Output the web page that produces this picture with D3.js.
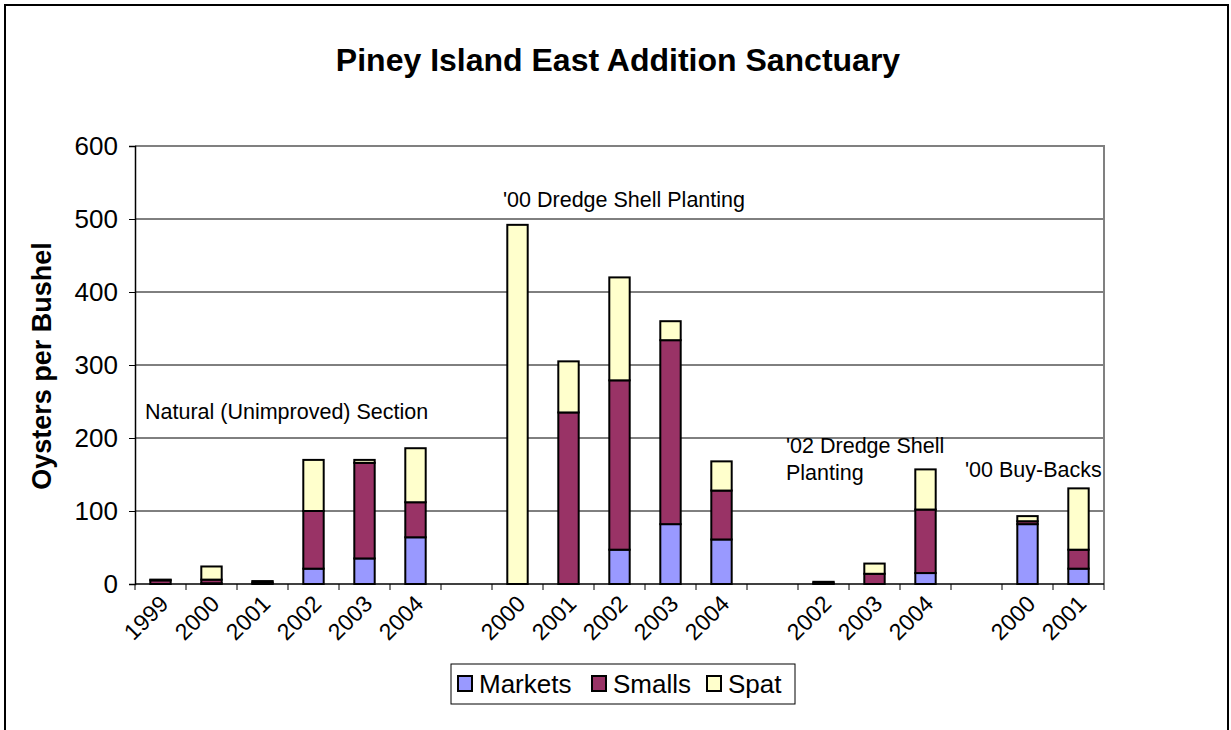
<!DOCTYPE html>
<html>
<head>
<meta charset="utf-8">
<script src="https://cdn.jsdelivr.net/npm/d3@7"></script>
<style>
  html, body { margin: 0; padding: 0; background: #fff; }
  svg { display: block; font-family: Arial, "Liberation Sans", sans-serif; }
</style>
</head>
<body>
<svg id="chart" width="1231" height="730"></svg>
<script>
// Sampling slots along the x axis; "g" ids are spacer slots between site groups
const slots = ["n1999","n2000","n2001","n2002","n2003","n2004","g1",
               "d2000","d2001","d2002","d2003","d2004","g2",
               "e2002","e2003","e2004","g3",
               "b2000","b2001"];
const tickLabels = ["1999","2000","2001","2002","2003","2004","",
                    "2000","2001","2002","2003","2004","",
                    "2002","2003","2004","",
                    "2000","2001"];
// Oysters per bushel by size class
const markets = [0, 1, 0, 21, 35, 64, 0, 0, 0, 47, 82, 61, 0, 0, 0, 15, 0, 82, 21];
const smalls  = [5, 5, 2, 79, 131, 48, 0, 0, 235, 232, 252, 67, 0, 1, 14, 87, 0, 4, 26];
const spat    = [1, 18, 2, 70, 4, 74, 0, 492, 70, 141, 26, 40, 0, 2, 14, 55, 0, 7, 84];
const seriesNames = ["Markets", "Smalls", "Spat"];
const seriesColors = ["#9999FF", "#993366", "#FFFFCC"];
const yTicks = [0, 100, 200, 300, 400, 500, 600];
// Site group captions
const noteLines = [["Natural (Unimproved) Section"], ["'00 Dredge Shell Planting"],
                   ["'02 Dredge Shell", "Planting"], ["'00 Buy-Backs"]];
const noteSlots = [0, 7, 13, 16];
const noteValues = [226, 516, 179, 146];

const svg = d3.select("#chart");
const plot = {left: 135, right: 1104, top: 146, bottom: 584};
const noteOffsets = [10, 11, -12, 14];

const x = d3.scaleBand().domain(slots).range([plot.left, plot.right]).paddingInner(0.6).paddingOuter(0.3);
const xOuter = d3.scaleBand().domain(slots).range([plot.left, plot.right]);
const y = d3.scaleLinear().domain([0, 600]).range([plot.bottom, plot.top]);

// Outer chart frame
svg.append("rect").attr("x", 5).attr("y", 5).attr("width", 1223).attr("height", 740)
  .attr("fill", "none").attr("stroke", "#000").attr("stroke-width", 2);

// Title
svg.append("text").attr("x", 618).attr("y", 71).attr("text-anchor", "middle")
  .attr("font-size", 32).attr("font-weight", "bold").text("Piney Island East Addition Sanctuary");

// Gridlines
svg.append("g").selectAll("line").data(yTicks.filter(d => d > 0 && d < 600)).join("line")
  .attr("x1", plot.left).attr("x2", plot.right)
  .attr("y1", d => y(d)).attr("y2", d => y(d))
  .attr("stroke", "#000").attr("stroke-width", 1);

// Plot area border (top and right)
svg.append("path")
  .attr("d", `M${plot.left},${plot.top}H${plot.right}V${plot.bottom}`)
  .attr("fill", "none").attr("stroke", "#808080").attr("stroke-width", 2);

// Stacked bars
const rows = slots.map((s, i) => ({slot: s, Markets: markets[i], Smalls: smalls[i], Spat: spat[i]}));
const stack = d3.stack().keys(seriesNames)(rows);
stack.forEach((layer, li) => {
  svg.append("g").selectAll("rect")
    .data(layer.filter(d => d[1] - d[0] > 0))
    .join("rect")
    .attr("x", d => x(d.data.slot))
    .attr("width", x.bandwidth())
    .attr("y", d => y(d[1]))
    .attr("height", d => y(d[0]) - y(d[1]))
    .attr("fill", seriesColors[li])
    .attr("stroke", "#000").attr("stroke-width", 2);
});

// Y axis
const yAxis = d3.axisLeft(y).tickValues(yTicks).tickSize(6).tickPadding(11);
const gy = svg.append("g").attr("transform", `translate(${plot.left},0)`).call(yAxis);
gy.select(".domain").attr("stroke", "#000").attr("stroke-width", 1.5);
gy.selectAll(".tick line").attr("stroke", "#000");
gy.selectAll(".tick text").attr("font-size", 26).attr("fill", "#000")
  .attr("font-family", "Arial, 'Liberation Sans', sans-serif");

// X axis line with ticks at slot boundaries
svg.append("line").attr("x1", plot.left).attr("x2", plot.right)
  .attr("y1", plot.bottom).attr("y2", plot.bottom).attr("stroke", "#000").attr("stroke-width", 1.5);
const boundaries = slots.map(s => xOuter(s)).concat([plot.right]);
svg.append("g").selectAll("line").data(boundaries).join("line")
  .attr("x1", d => d).attr("x2", d => d)
  .attr("y1", plot.bottom).attr("y2", plot.bottom + 6)
  .attr("stroke", "#000").attr("stroke-width", 1);

// Rotated category labels
svg.append("g").selectAll("text").data(slots.map((s, i) => ({s, label: tickLabels[i]})).filter(d => d.label))
  .join("text")
  .attr("transform", d => `translate(${xOuter(d.s) + xOuter.bandwidth() / 2 + 5},${plot.bottom + 17}) rotate(-45)`)
  .attr("text-anchor", "end").attr("dominant-baseline", "middle")
  .attr("font-size", 23).text(d => d.label);

// Y axis title
svg.append("text").attr("transform", "translate(51,366) rotate(-90)")
  .attr("text-anchor", "middle").attr("font-size", 27).attr("font-weight", "bold")
  .text("Oysters per Bushel");

// Site group captions
noteLines.forEach((lines, k) => {
  const nx = xOuter(slots[noteSlots[k]]) + noteOffsets[k];
  const t = svg.append("text").attr("x", nx).attr("y", y(noteValues[k])).attr("font-size", 21.5);
  lines.forEach((line, i) => {
    t.append("tspan").attr("x", nx).attr("dy", i === 0 ? 0 : 27).text(line);
  });
});

// Legend
const legend = svg.append("g").attr("transform", "translate(451,664)");
legend.append("rect").attr("width", 344).attr("height", 40)
  .attr("fill", "#fff").attr("stroke", "#000").attr("stroke-width", 1);
const legendX = [7, 141, 256];
seriesNames.forEach((name, i) => {
  const g = legend.append("g").attr("transform", `translate(${legendX[i]},0)`);
  g.append("rect").attr("x", 0).attr("y", 12).attr("width", 14).attr("height", 15)
    .attr("fill", seriesColors[i]).attr("stroke", "#000").attr("stroke-width", 2);
  g.append("text").attr("x", 21).attr("y", 29).attr("font-size", 26).text(name);
});
</script>
</body>
</html>
